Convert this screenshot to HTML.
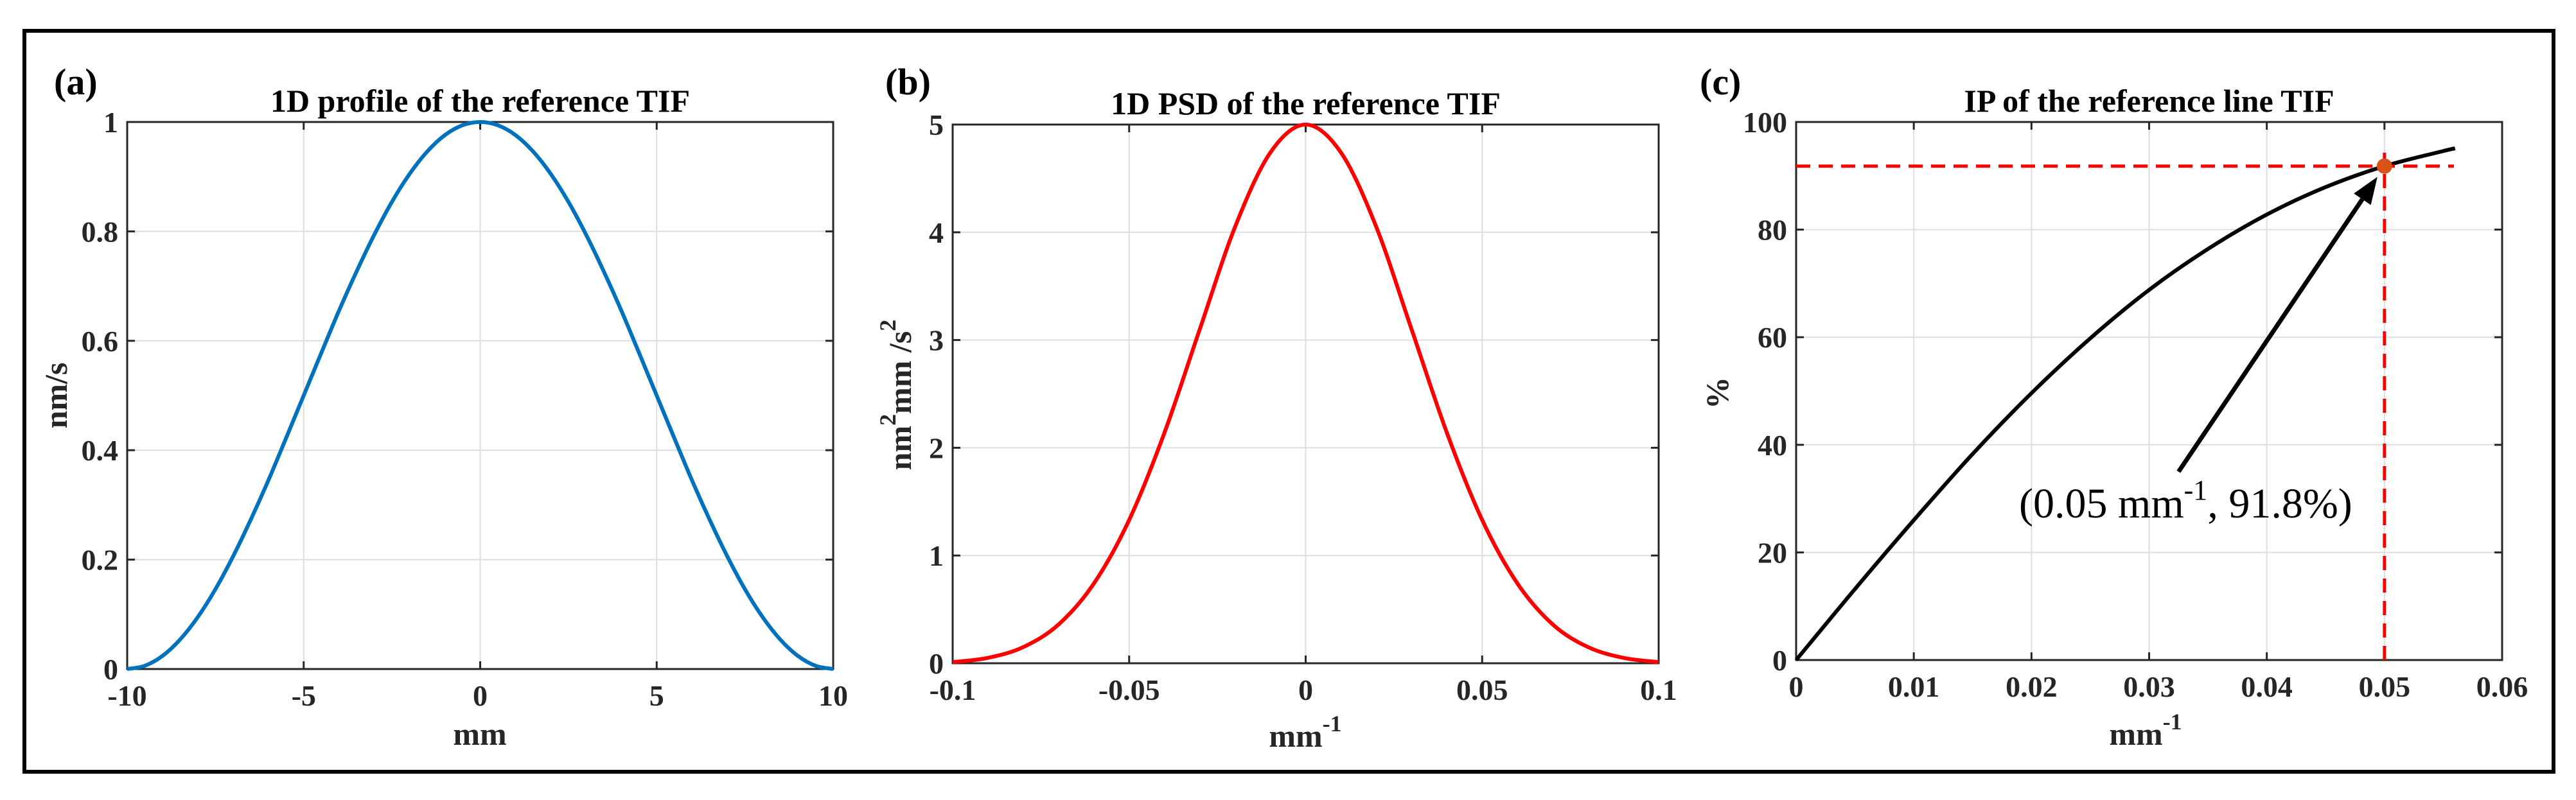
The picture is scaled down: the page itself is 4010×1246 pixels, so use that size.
<!DOCTYPE html>
<html><head><meta charset="utf-8"><style>
html,body{margin:0;padding:0;background:#fff;}
svg{display:block;font-family:"Liberation Serif",serif;}
</style></head><body>
<svg id="fig" width="4010" height="1246" viewBox="0 0 4010 1246" xmlns="http://www.w3.org/2000/svg">
<rect x="38" y="48" width="3937" height="1154" fill="none" stroke="#000" stroke-width="6"/>
<g id="root"></g>
</svg>
<script>
// Panel (a) data
const aX = [-10,-9.5,-9,-8.5,-8,-7.5,-7,-6.5,-6,-5.5,-5,-4.5,-4,-3.5,-3,-2.5,-2,-1.5,-1,-0.5,0,0.5,1,1.5,2,2.5,3,3.5,4,4.5,5,5.5,6,6.5,7,7.5,8,8.5,9,9.5,10];
const aY = [0,0.006,0.024,0.054,0.095,0.146,0.206,0.273,0.345,0.422,0.5,0.578,0.655,0.727,0.794,0.854,0.905,0.946,0.976,0.994,1,0.994,0.976,0.946,0.905,0.854,0.794,0.727,0.655,0.578,0.5,0.422,0.345,0.273,0.206,0.146,0.095,0.054,0.024,0.006,0];
const aXTicks = [-10,-5,0,5,10];
const aXTickLabels = ["-10","-5","0","5","10"];
const aYTicks = [0,0.2,0.4,0.6,0.8,1];
const aYTickLabels = ["0","0.2","0.4","0.6","0.8","1"];
// Panel (b) data
const bX = [-0.1,-0.09,-0.08,-0.07,-0.06,-0.05,-0.04,-0.03,-0.02,-0.01,0,0.01,0.02,0.03,0.04,0.05,0.06,0.07,0.08,0.09,0.1];
const bY = [0.01,0.05,0.15,0.36,0.74,1.33,2.14,3.10,4.05,4.74,5,4.74,4.05,3.10,2.14,1.33,0.74,0.36,0.15,0.05,0.01];
const bXTicks = [-0.1,-0.05,0,0.05,0.1];
const bXTickLabels = ["-0.1","-0.05","0","0.05","0.1"];
const bYTicks = [0,1,2,3,4,5];
const bYTickLabels = ["0","1","2","3","4","5"];
// Panel (c) data
const cX = [0,0.005,0.01,0.015,0.02,0.025,0.03,0.035,0.04,0.045,0.05,0.055,0.056];
const cY = [0,13.2,26,38.3,49.6,59.8,68.8,76.4,82.8,87.9,91.8,94.6,95.1];
const cXTicks = [0,0.01,0.02,0.03,0.04,0.05,0.06];
const cXTickLabels = ["0","0.01","0.02","0.03","0.04","0.05","0.06"];
const cYTicks = [0,20,40,60,80,100];
const cYTickLabels = ["0","20","40","60","80","100"];
const markX = [0.05];
const markY = [91.8];
const arrowFrom = [0.0325, 35];
const arrowTo = [0.0494, 89.8];

const NS = "http://www.w3.org/2000/svg";
const root = document.getElementById('root');
function mk(tag, attrs, parent, text){
  const e = document.createElementNS(NS, tag);
  for (const k in attrs) e.setAttribute(k, attrs[k]);
  if (text !== undefined) e.textContent = text;
  (parent || root).appendChild(e);
  return e;
}
function smooth(pts){
  let d = "M" + pts[0][0] + "," + pts[0][1];
  for (let i = 0; i < pts.length - 1; i++){
    const p0 = pts[Math.max(i-1,0)], p1 = pts[i], p2 = pts[i+1], p3 = pts[Math.min(i+2,pts.length-1)];
    const c1 = [p1[0] + (p2[0]-p0[0])/6, p1[1] + (p2[1]-p0[1])/6];
    const c2 = [p2[0] - (p3[0]-p1[0])/6, p2[1] - (p3[1]-p1[1])/6];
    d += " C" + c1[0] + "," + c1[1] + " " + c2[0] + "," + c2[1] + " " + p2[0] + "," + p2[1];
  }
  return d;
}
function panel(cfg){
  const g = mk('g', {});
  
  
  const sx = v => cfg.L + (v - cfg.x0) / (cfg.x1 - cfg.x0) * (cfg.R - cfg.L);
  const sy = v => cfg.B - (v - cfg.y0) / (cfg.y1 - cfg.y0) * (cfg.B - cfg.T);
  cfg.xt.forEach((v, i) => {
    const x = sx(v);
    const gl = mk('line', {x1:x, x2:x, y1:cfg.T, y2:cfg.B, stroke:'#dedede', 'stroke-width':2}, g);
    
    
    mk('line', {x1:x, x2:x, y1:cfg.B, y2:cfg.B-12, stroke:'#262626', 'stroke-width':3}, g);
    mk('line', {x1:x, x2:x, y1:cfg.T, y2:cfg.T+12, stroke:'#262626', 'stroke-width':3}, g);
    const t = mk('text', {x:x, y:cfg.B+57, 'text-anchor':'middle', 'font-size':46, 'font-weight':'bold', fill:'#262626'}, g, cfg.xl[i]);
    
    
  });
  cfg.yt.forEach((v, i) => {
    const y = sy(v);
    const gl = mk('line', {x1:cfg.L, x2:cfg.R, y1:y, y2:y, stroke:'#dedede', 'stroke-width':2}, g);
    
    
    mk('line', {x1:cfg.L, x2:cfg.L+12, y1:y, y2:y, stroke:'#262626', 'stroke-width':3}, g);
    mk('line', {x1:cfg.R, x2:cfg.R-12, y1:y, y2:y, stroke:'#262626', 'stroke-width':3}, g);
    const t = mk('text', {x:cfg.L-14, y:y+16, 'text-anchor':'end', 'font-size':46, 'font-weight':'bold', fill:'#262626'}, g, cfg.yl[i]);
    
    
  });
  const box = mk('rect', {x:cfg.L, y:cfg.T, width:cfg.R-cfg.L, height:cfg.B-cfg.T, fill:'none', stroke:'#262626', 'stroke-width':3}, g);
  
  
  const pts = cfg.xs.map((v, i) => [sx(v), sy(cfg.ys[i])]);
  const line = mk('path', {d:smooth(pts), fill:'none', stroke:cfg.color, 'stroke-width':6, 'stroke-linejoin':'round'}, g);
  
  
  const ti = mk('text', {x:(cfg.L+cfg.R)/2, y:cfg.T-16, 'text-anchor':'middle', 'font-size':50, 'font-weight':'bold', fill:'#000'}, g, cfg.title);
  
  
  const lb = mk('text', {x:cfg.lbx, y:147, 'font-size':58, 'font-weight':'bold', fill:'#000'}, g, cfg.label);
  
  
  return {g, sx, sy};
}

// (a)
const A = panel({name:'panel-a', L:198, R:1297, T:190, B:1042, x0:-10, x1:10, y0:0, y1:1,
  xt:aXTicks, xl:aXTickLabels, yt:aYTicks, yl:aYTickLabels, xs:aX, ys:aY, color:'#0072bd',
  lineName:'profile-line', title:'1D profile of the reference TIF', label:'(a)', lbx:84});
let t = mk('text', {x:747, y:1160, 'text-anchor':'middle', 'font-size':50, 'font-weight':'bold', fill:'#262626'}, A.g, 'mm');


t = mk('text', {x:0, y:0, 'text-anchor':'middle', 'font-size':50, 'font-weight':'bold', fill:'#262626', transform:'translate(104,616) rotate(-90)'}, A.g, 'nm/s');



// (b)
const Bp = panel({name:'panel-b', L:1483, R:2582, T:194, B:1033, x0:-0.1, x1:0.1, y0:0, y1:5,
  xt:bXTicks, xl:bXTickLabels, yt:bYTicks, yl:bYTickLabels, xs:bX, ys:bY, color:'#ff0000',
  lineName:'psd-line', title:'1D PSD of the reference TIF', label:'(b)', lbx:1378});
t = mk('text', {x:2032, y:1163, 'text-anchor':'middle', 'font-size':50, 'font-weight':'bold', fill:'#262626'}, Bp.g);


t.innerHTML = 'mm<tspan dy="-24" font-size="36">-1</tspan>';
t = mk('text', {x:0, y:0, 'text-anchor':'middle', 'font-size':50, 'font-weight':'bold', fill:'#262626', transform:'translate(1418,615) rotate(-90)'}, Bp.g);


t.innerHTML = 'nm<tspan dy="-24" font-size="36">2</tspan><tspan dy="24">mm  /s</tspan><tspan dy="-24" font-size="36">2</tspan>';

// (c)
const C = panel({name:'panel-c', L:2796, R:3895, T:190, B:1028, x0:0, x1:0.06, y0:0, y1:100,
  xt:cXTicks, xl:cXTickLabels, yt:cYTicks, yl:cYTickLabels, xs:cX, ys:cY, color:'#000000',
  lineName:'ip-line', title:'IP of the reference line TIF', label:'(c)', lbx:2646});
t = mk('text', {x:3340, y:1160, 'text-anchor':'middle', 'font-size':50, 'font-weight':'bold', fill:'#262626'}, C.g);


t.innerHTML = 'mm<tspan dy="-24" font-size="36">-1</tspan>';
t = mk('text', {x:0, y:0, 'text-anchor':'middle', 'font-size':50, 'font-weight':'bold', fill:'#262626', transform:'translate(2690,612) rotate(-90)'}, C.g, '%');


// reference dashed lines
const mx = C.sx(markX[0]), my = C.sy(markY[0]);
let d1 = mk('line', {x1:C.sx(0), x2:C.sx(0.0559), y1:my, y2:my, stroke:'#ff0000', 'stroke-width':5, 'stroke-dasharray':'22,13'}, C.g);


let d2 = mk('line', {x1:mx, x2:mx, y1:C.sy(0), y2:C.sy(94.3), stroke:'#ff0000', 'stroke-width':5, 'stroke-dasharray':'22,13'}, C.g);


let dot = mk('circle', {cx:mx, cy:my, r:12, fill:'#d95319'}, C.g);


// arrow
const ax0 = C.sx(arrowFrom[0]), ay0 = C.sy(arrowFrom[1]), ax1 = C.sx(arrowTo[0]), ay1 = C.sy(arrowTo[1]);
const ang = Math.atan2(ay1 - ay0, ax1 - ax0), hl = 42, hw = 16;
const bx = ax1 - hl*Math.cos(ang), by = ay1 - hl*Math.sin(ang);
let ar = mk('line', {x1:ax0, y1:ay0, x2:bx, y2:by, stroke:'#000', 'stroke-width':7}, C.g);


let ah = mk('polygon', {points:[ax1+','+ay1, (bx - hw*Math.sin(ang))+','+(by + hw*Math.cos(ang)), (bx + hw*Math.sin(ang))+','+(by - hw*Math.cos(ang))].join(' '), fill:'#000'}, C.g);


t = mk('text', {x:3143, y:806, 'font-size':66, fill:'#000'}, C.g);


t.innerHTML = '(0.05 mm<tspan dy="-28" font-size="44">-1</tspan><tspan dy="28">, 91.8%)</tspan>';
</script>
</body></html>
